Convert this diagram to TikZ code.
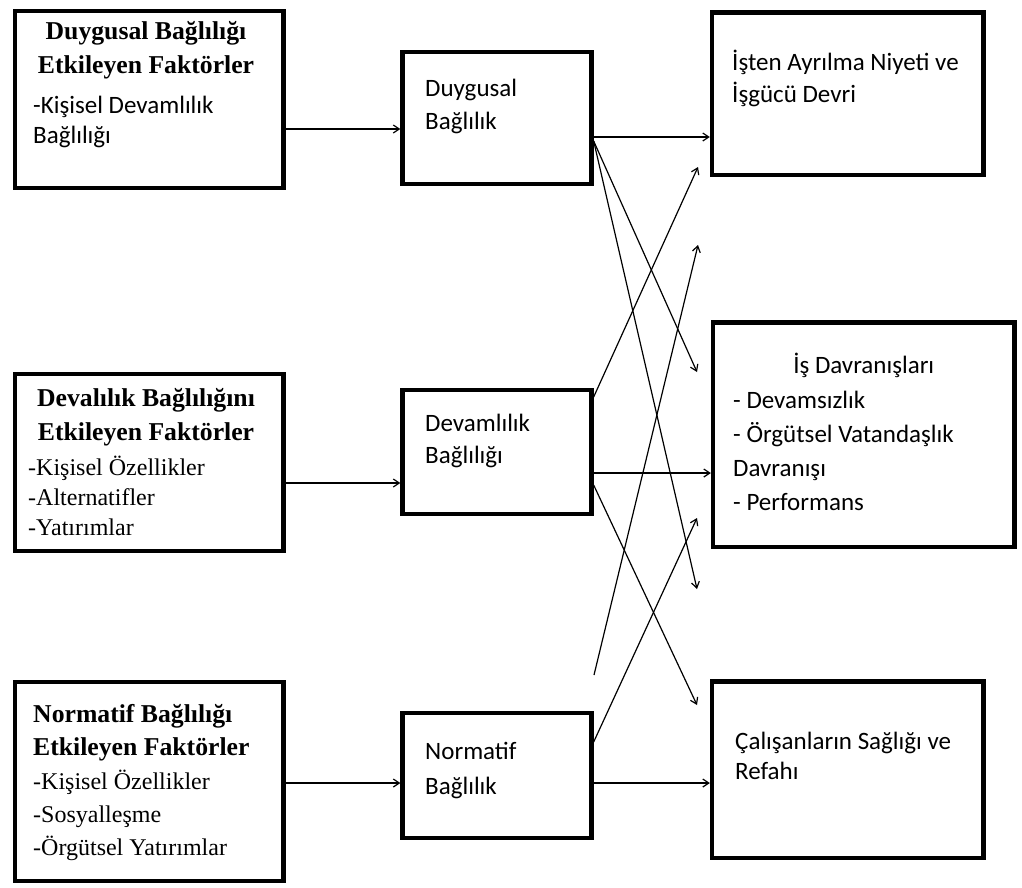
\documentclass[tikz,border=0pt]{standalone}
\usepackage{fontspec}
\setmainfont{Liberation Serif}
\newfontfamily\calfont{Carlito}
\usetikzlibrary{arrows.meta}

\tikzset{
  box/.style={draw,line width=4.3pt,inner sep=0pt},
  ttl/.style={inner sep=0pt,anchor=north,align=center,font=\fontsize{25.7}{34}\selectfont\bfseries},
  txt/.style={inner sep=0pt,anchor=north west,align=left},
  conn/.style={line width=1.2pt,-{Straight Barb[length=6pt,width=8pt]}}
}
\newcommand{\sansfs}[1]{\calfont\fontsize{25}{#1}\selectfont}
\newcommand{\seriffs}[1]{\fontsize{24}{#1}\selectfont}

\begin{document}
\begin{tikzpicture}[x=1pt,y=-1pt]
\useasboundingbox (0,0) rectangle (1022,887);

% factor boxes
\node[box,minimum width=268.5pt,minimum height=177pt] (l1) at (149.25,99.5) {};
\node[box,minimum width=268.5pt,minimum height=177pt] (l2) at (149.25,462.5) {};
\node[box,minimum width=268.5pt,minimum height=199pt] (l3) at (149.25,781.75) {};

\node[ttl] (l1t) at (146,15.2) {\strut Duygusal Bağlılığı\\Etkileyen Faktörler};
\node[txt,font=\sansfs{30}] (l1b) at (33,92) {\strut-Kişisel Devamlılık\\Bağlılığı};
\node[ttl] (l2t) at (146,382.2) {\strut Devalılık Bağlılığını\\Etkileyen Faktörler};
\node[txt,font=\seriffs{30}] (l2b) at (28,454) {\strut-Kişisel Özellikler\\-Alternatifler\\-Yatırımlar};
\node[ttl,anchor=north west,align=left,font=\fontsize{25.7}{33}\selectfont\bfseries] (l3t) at (33,698.9) {\strut Normatif Bağlılığı\\Etkileyen Faktörler};
\node[txt,font=\seriffs{33}] (l3b) at (33,765.9) {\strut-Kişisel Özellikler\\-Sosyalleşme\\-Örgütsel Yatırımlar};

% commitment boxes
\node[box,minimum width=189pt,minimum height=132pt] (m1) at (497,118) {};
\node[box,minimum width=189pt,minimum height=124pt] (m2) at (497,452) {};
\node[box,minimum width=189pt,minimum height=125pt] (m3) at (497,775.5) {};

\node[txt,font=\sansfs{33}] (m1t) at (425,73) {\strut Duygusal\\Bağlılık};
\node[txt,font=\sansfs{32}] (m2t) at (425,408.5) {\strut Devamlılık\\Bağlılığı};
\node[txt,font=\sansfs{35}] (m3t) at (425,734.5) {\strut Normatif\\Bağlılık};

% outcome boxes
\node[box,minimum width=271.5pt,minimum height=162.5pt] (r1) at (847.75,93.75) {};
\node[box,minimum width=301.5pt,minimum height=224.5pt] (r2) at (863.75,434.75) {};
\node[box,minimum width=271.5pt,minimum height=176.5pt] (r3) at (847.75,769.75) {};

\node[txt,font=\sansfs{32}] (r1t) at (732,48) {\strut İşten Ayrılma Niyeti ve\\İşgücü Devri};
\node[inner sep=0pt,anchor=north,font=\sansfs{34}] (r2t) at (863.75,349) {\strut İş Davranışları};
\node[txt,font=\sansfs{34}] (r2b) at (733,384) {\strut- Devamsızlık\\- Örgütsel Vatandaşlık\\Davranışı\\- Performans};
\node[txt,font=\sansfs{30}] (r3t) at (735,728) {\strut Çalışanların Sağlığı ve\\Refahı};

% loose ends of the crossing arrows
\coordinate (t1) at (697,372);
\coordinate (t2) at (697,589);
\coordinate (t3) at (698,167);
\coordinate (t4) at (697,705);
\coordinate (t5) at (698,245);
\coordinate (t6) at (697,518);
\coordinate (s5) at (594,675);

% factors -> commitment
\draw[conn] ([yshift=-29.5pt]l1.east) -- ([yshift=-11pt]m1.west);
\draw[conn] ([yshift=-20.5pt]l2.east) -- ([yshift=-31pt]m2.west);
\draw[conn] ([yshift=-1.25pt]l3.east) -- ([yshift=-7.5pt]m3.west);

% commitment -> outcomes
\draw[conn] ([yshift=-19pt]m1.east) -- ([yshift=-43.25pt]r1.west);
\draw[conn] ([yshift=-23pt]m1.east) -- (t1);
\draw[conn] ([yshift=-23pt]m1.east) -- (t2);
\draw[conn] ([yshift=55pt]m2.east) -- (t3);
\draw[conn] ([yshift=-21pt]m2.east) -- ([yshift=-38.25pt]r2.west);
\draw[conn] ([yshift=-33pt]m2.east) -- (t4);
\draw[conn] (s5) -- (t5);
\draw[conn] ([yshift=33.5pt]m3.east) -- (t6);
\draw[conn] ([yshift=-7.5pt]m3.east) -- ([yshift=-13.25pt]r3.west);
\end{tikzpicture}
\end{document}
